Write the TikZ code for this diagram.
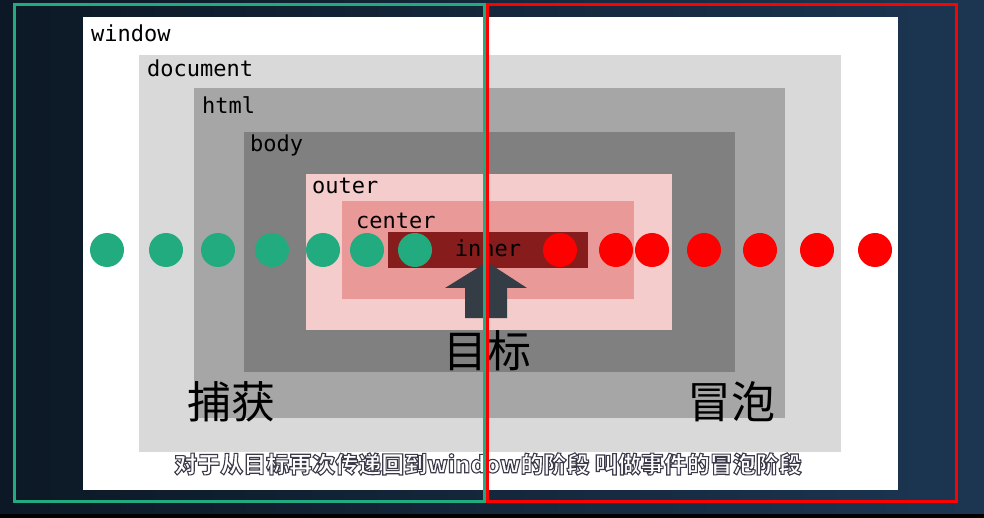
\documentclass[tikz,border=0pt]{standalone}
\usepackage{fontspec}
\setmonofont{DejaVu Sans Mono}
\newfontfamily\cjk{Noto Sans CJK SC}
\usetikzlibrary{positioning}
\definecolor{bgdark}{HTML}{0C1825}
\definecolor{bglight}{HTML}{1C3652}
\definecolor{docgray}{HTML}{D9D9D9}
\definecolor{htmlgray}{HTML}{A6A6A6}
\definecolor{bodygray}{HTML}{808080}
\definecolor{outerpink}{HTML}{F4CCCC}
\definecolor{centerpink}{HTML}{EA9999}
\definecolor{innerred}{HTML}{861C1C}
\definecolor{capgreen}{HTML}{22AB7F}
\definecolor{bubred}{HTML}{FF0000}
\definecolor{arrowgray}{HTML}{343D46}
% outlined caption text: white fill, dark stroke
\newcommand\outlined[1]{\special{pdf:literal direct 0.23 0.23 0.29 RG 2 Tr 1.1 w}#1\special{pdf:literal direct 0 Tr}}

\begin{document}
\begin{tikzpicture}[x=1pt,y=-1pt,
    layer/.style={anchor=north west,inner sep=0pt,outer sep=0pt},
    tag/.style={anchor=base west,inner sep=0pt,font=\ttfamily\fontsize{22}{22}\selectfont},
    dot/.style={circle,minimum size=34pt,inner sep=0pt},
    frame/.style={anchor=north west,draw,line width=3pt,inner sep=0pt},
    big/.style={font=\cjk\fontsize{44}{44}\selectfont}]
    \useasboundingbox (0,0) rectangle (984,518);
    \fill[left color=bgdark,right color=bglight] (0,0) rectangle (984,518);
    \fill[black] (0,514) rectangle (984,518);

    % nested boxes
    \node[layer,fill=white,minimum width=815pt,minimum height=473pt] (window) at (83,17) {};
    \node[layer,fill=docgray,minimum width=702pt,minimum height=397pt] (document) at (139,55) {};
    \node[layer,fill=htmlgray,minimum width=591pt,minimum height=330pt] (html) at (194,88) {};
    \node[layer,fill=bodygray,minimum width=491pt,minimum height=240pt] (body) at (244,132) {};
    \node[layer,fill=outerpink,minimum width=366pt,minimum height=156pt] (outer) at (306,174) {};
    \node[layer,fill=centerpink,minimum width=292pt,minimum height=98pt] (center) at (342,201) {};
    \node[layer,fill=innerred,minimum width=200pt,minimum height=36pt] (inner) at (388,232) {};

    \node[tag] (windowtag) at ([shift={(8,25)}]window.north west) {window};
    \node[tag] (documenttag) at ([shift={(8,22)}]document.north west) {document};
    \node[tag] (htmltag) at ([shift={(8,26)}]html.north west) {html};
    \node[tag] (bodytag) at ([shift={(6,20)}]body.north west) {body};
    \node[tag] (outertag) at ([shift={(6,20)}]outer.north west) {outer};
    \node[tag] (centertag) at ([shift={(14,28)}]center.north west) {center};
    \node[tag,anchor=base] (innertag) at (488,257) {inner};

    % capture and bubble dots
    \foreach \x [count=\i] in {107,166,218,272,323,367,415}
        \node[dot,fill=capgreen] (g\i) at (\x,250) {};
    \foreach \x [count=\i] in {560,616,652,704,760,817,875}
        \node[dot,fill=bubred] (r\i) at (\x,250) {};

    % target arrow
    \fill[arrowgray] (487,262) -- (527,288) -- (507,288) -- (507,318)
        -- (465,318) -- (465,288) -- (445,288) -- cycle;

    \node[big] (target) at (487,351) {目标};
    \node[big] (capture) at (231,402) {捕获};
    \node[big] (bubble) at (731,402) {冒泡};

    \node[font=\cjk\bfseries\fontsize{23}{23}\selectfont,text=white] (caption) at (488,464)
        {\outlined{对于从目标再次传递回到window的阶段 叫做事件的冒泡阶段}};

    % phase frames
    \node[frame,draw=capgreen,minimum width=470pt,minimum height=497pt] (capframe) at (13,3) {};
    \node[frame,draw=bubred,minimum width=469pt,minimum height=497pt] (bubframe) at (486,3) {};
\end{tikzpicture}
\end{document}
